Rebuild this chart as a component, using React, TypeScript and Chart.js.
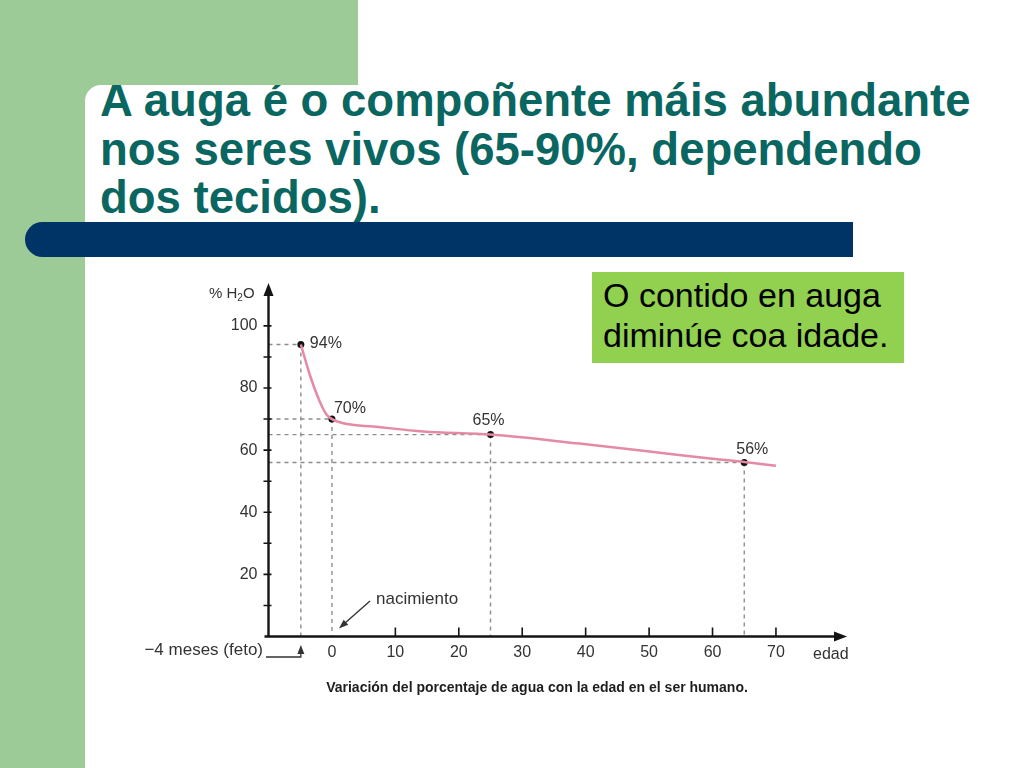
import React, { useEffect, useRef } from 'react';
import { Chart, registerables } from 'chart.js';

Chart.register(...registerables);

const curveAge = [-4.9, -3.4, -1.8, -0.8, 0, 2.4, 6.5, 14.4, 25, 39, 52, 60, 65, 70];
const curvePct = [94, 83.7, 75.1, 71.3, 70, 68.4, 67.6, 66, 65, 62.1, 59.1, 57.2, 56.2, 55];

// puntos marcados
const markAge = [-4.9, 0, 25, 65];
const markPct = [94, 70, 65, 56];
const markLabel = ['94%', '70%', '65%', '56%'];

const xTicks = [0, 10, 20, 30, 40, 50, 60, 70];
const yTicks = [10, 20, 30, 40, 50, 60, 70, 80, 90, 100];
const yLabelled = [20, 40, 60, 80, 100];

const FONT = '"Liberation Sans", Arial, sans-serif';
const INK = '#333333';

// canvas origin on the page
const OX = 140;
const OY = 270;

const decor = {
  id: 'decor',
  beforeDatasetsDraw(chart: any) {
    const { ctx, scales } = chart;
    const x = scales.x;
    const y = scales.y;
    const x0 = x.left;
    const y0 = y.bottom;
    ctx.save();

    // líneas guía discontinuas
    ctx.strokeStyle = '#8c8c8c';
    ctx.lineWidth = 1.4;
    ctx.setLineDash([4, 4]);
    markAge.forEach((a, i) => {
      const px = x.getPixelForValue(a);
      const py = y.getPixelForValue(markPct[i]);
      ctx.beginPath();
      ctx.moveTo(x0, py);
      ctx.lineTo(px, py);
      ctx.moveTo(px, py);
      ctx.lineTo(px, y0);
      ctx.stroke();
    });
    ctx.setLineDash([]);

    // ejes con flecha
    ctx.strokeStyle = '#141414';
    ctx.fillStyle = '#141414';
    ctx.lineWidth = 2.4;
    ctx.beginPath();
    ctx.moveTo(x0, y0 + 1);
    ctx.lineTo(x0, y.top + 10);
    ctx.moveTo(x0 - 4, y0);
    ctx.lineTo(x.right - 10, y0);
    ctx.stroke();
    ctx.beginPath();
    ctx.moveTo(x0, y.top);
    ctx.lineTo(x0 - 5, y.top + 13);
    ctx.lineTo(x0 + 5, y.top + 13);
    ctx.closePath();
    ctx.fill();
    ctx.beginPath();
    ctx.moveTo(x.right, y0);
    ctx.lineTo(x.right - 13, y0 - 5);
    ctx.lineTo(x.right - 13, y0 + 5);
    ctx.closePath();
    ctx.fill();

    // marcas
    ctx.lineWidth = 1.6;
    ctx.beginPath();
    yTicks.forEach((v) => {
      const py = y.getPixelForValue(v);
      ctx.moveTo(x0 - 5, py);
      ctx.lineTo(x0 + 3, py);
    });
    xTicks.forEach((v) => {
      if (v === 0) return;
      const px = x.getPixelForValue(v);
      ctx.moveTo(px, y0 - 9);
      ctx.lineTo(px, y0);
    });
    ctx.stroke();
    ctx.restore();
  },
  afterDatasetsDraw(chart: any) {
    const { ctx, scales } = chart;
    const x = scales.x;
    const y = scales.y;
    const y0 = y.bottom;
    ctx.save();
    ctx.fillStyle = INK;
    ctx.strokeStyle = INK;
    ctx.textBaseline = 'middle';

    // etiquetas de los puntos
    ctx.font = `16px ${FONT}`;
    const offs = [
      [9, -1, 'left'],
      [2, -10, 'left'],
      [-2, -14, 'center'],
      [8, -13, 'center'],
    ];
    markAge.forEach((a, i) => {
      const px = x.getPixelForValue(a);
      const py = y.getPixelForValue(markPct[i]);
      ctx.textAlign = offs[i][2];
      ctx.fillText(markLabel[i], px + (offs[i][0] as number), py + (offs[i][1] as number));
    });

    // % H2O
    ctx.font = `15px ${FONT}`;
    ctx.textAlign = 'left';
    let tx = 209 - OX;
    const ty = 294 - OY;
    ctx.fillText('% H', tx, ty);
    tx += ctx.measureText('% H').width;
    ctx.font = `10px ${FONT}`;
    ctx.fillText('2', tx, ty + 4);
    tx += ctx.measureText('2').width;
    ctx.font = `15px ${FONT}`;
    ctx.fillText('O', tx, ty);

    // edad
    ctx.font = `16px ${FONT}`;
    ctx.fillText('edad', 813 - OX, 655 - OY);

    // −4 meses (feto)
    const fx = x.getPixelForValue(markAge[0]);
    ctx.font = `17px ${FONT}`;
    ctx.textAlign = 'right';
    ctx.fillText('\u22124 meses (feto)', 263 - OX, 650 - OY);
    ctx.lineWidth = 1.3;
    ctx.beginPath();
    ctx.moveTo(266 - OX, 657 - OY);
    ctx.lineTo(fx, 657 - OY);
    ctx.lineTo(fx, 651 - OY);
    ctx.stroke();
    ctx.beginPath();
    ctx.moveTo(fx, 645 - OY);
    ctx.lineTo(fx - 3.5, 654 - OY);
    ctx.lineTo(fx + 3.5, 654 - OY);
    ctx.closePath();
    ctx.fill();

    // nacimiento
    ctx.font = `17px ${FONT}`;
    ctx.textAlign = 'left';
    ctx.fillText('nacimiento', 376 - OX, 599 - OY);
    const bx = x.getPixelForValue(0) + 7;
    const by = y0 - 8;
    ctx.lineWidth = 1.4;
    ctx.beginPath();
    ctx.moveTo(370 - OX, 601 - OY);
    ctx.lineTo(bx + 5, by - 4.5);
    ctx.stroke();
    const ang = Math.atan2(by - (601 - OY), bx - (370 - OX));
    ctx.beginPath();
    ctx.moveTo(bx, by);
    ctx.lineTo(bx - 10 * Math.cos(ang - 0.35), by - 10 * Math.sin(ang - 0.35));
    ctx.lineTo(bx - 10 * Math.cos(ang + 0.35), by - 10 * Math.sin(ang + 0.35));
    ctx.closePath();
    ctx.fill();

    // pie
    ctx.fillStyle = '#1e1e1e';
    ctx.font = `bold 14px ${FONT}`;
    ctx.textAlign = 'center';
    ctx.fillText('Variación del porcentaje de agua con la edad en el ser humano.', 537 - OX, 688 - OY);
    ctx.restore();
  },
};

function WaterChart() {
  const canvasRef = useRef<HTMLCanvasElement | null>(null);

  useEffect(() => {
    const el = canvasRef.current;
    if (!el) return;
    const tickFont = { family: FONT, size: 16 };
    const chart = new Chart(el, {
      type: 'scatter',
      data: {
        datasets: [
          {
            data: curveAge.map((a, i) => ({ x: a, y: curvePct[i] })),
            showLine: true,
            borderColor: '#e48aa5',
            borderWidth: 2.5,
            pointRadius: 0,
            cubicInterpolationMode: 'monotone',
          },
          {
            data: markAge.map((a, i) => ({ x: a, y: markPct[i] })),
            showLine: false,
            pointRadius: 3.5,
            pointBackgroundColor: '#111',
            pointBorderColor: '#111',
            borderWidth: 0,
          },
        ],
      },
      options: {
        animation: false,
        responsive: true,
        maintainAspectRatio: false,
        layout: { padding: { top: 13, right: 33, left: 0, bottom: 0 } },
        plugins: { legend: { display: false }, tooltip: { enabled: false } },
        scales: {
          x: {
            type: 'linear',
            min: -10,
            max: 81.2,
            afterBuildTicks: (s: any) => {
              s.ticks = xTicks.map((v) => ({ value: v }));
            },
            afterFit: (s: any) => {
              s.height = 73.5;
              s.paddingLeft = 0;
              s.paddingRight = 0;
            },
            grid: { display: false, drawTicks: false },
            border: { display: false },
            ticks: { padding: 6, font: tickFont, color: INK, autoSkip: false, maxRotation: 0 },
          },
          y: {
            min: 0,
            max: 113.8,
            afterBuildTicks: (s: any) => {
              s.ticks = yTicks.map((v) => ({ value: v }));
            },
            afterFit: (s: any) => {
              s.width = 128.5;
              s.paddingTop = 0;
              s.paddingBottom = 0;
            },
            grid: { display: false, drawTicks: false },
            border: { display: false },
            ticks: {
              padding: 11,
              font: tickFont,
              color: INK,
              autoSkip: false,
              callback: (v: any) => (yLabelled.includes(Number(v)) ? String(v) : ''),
            },
          },
        },
      },
      plugins: [decor],
    } as any);
    return () => chart.destroy();
  }, []);

  return (
    <div style={{ position: 'absolute', left: OX, top: OY, width: 740, height: 440 }}>
      <canvas ref={canvasRef}></canvas>
    </div>
  );
}

export default function App() {
  const green = '#9dcb98';
  return (
    <div
      style={{
        position: 'fixed',
        left: 0,
        top: 0,
        width: 1024,
        height: 768,
        overflow: 'hidden',
        background: '#ffffff',
        fontFamily: FONT,
      }}
    >
      <div style={{ position: 'absolute', left: 0, top: 0, width: 85, height: 768, background: green }} />
      <div style={{ position: 'absolute', left: 85, top: 85, width: 20, height: 20, background: green }} />
      <div
        style={{
          position: 'absolute',
          left: 85,
          top: 85,
          width: 20,
          height: 20,
          background: '#fff',
          borderTopLeftRadius: 16,
        }}
      />
      <div
        style={{
          position: 'absolute',
          left: 100,
          top: 77,
          width: 940,
          fontSize: 45.5,
          lineHeight: '48.5px',
          fontWeight: 'bold',
          color: '#0a6660',
          whiteSpace: 'pre',
        }}
      >
        {'A auga é o compoñente máis abundante\nnos seres vivos (65-90%, dependendo\ndos tecidos).'}
      </div>
      <div style={{ position: 'absolute', left: 0, top: 0, width: 358, height: 85, background: green }} />
      <div
        style={{
          position: 'absolute',
          left: 25,
          top: 222,
          width: 828,
          height: 35,
          background: '#003366',
          borderTopLeftRadius: 17.5,
          borderBottomLeftRadius: 17.5,
        }}
      />
      <WaterChart />
      <div
        style={{
          position: 'absolute',
          left: 592,
          top: 272,
          width: 312,
          height: 91,
          boxSizing: 'border-box',
          padding: '3px 0 0 11px',
          background: '#92d050',
          color: '#000',
          fontSize: 34,
          lineHeight: '40px',
        }}
      >
        O contido en auga
        <br />
        diminúe coa idade.
      </div>
    </div>
  );
}
